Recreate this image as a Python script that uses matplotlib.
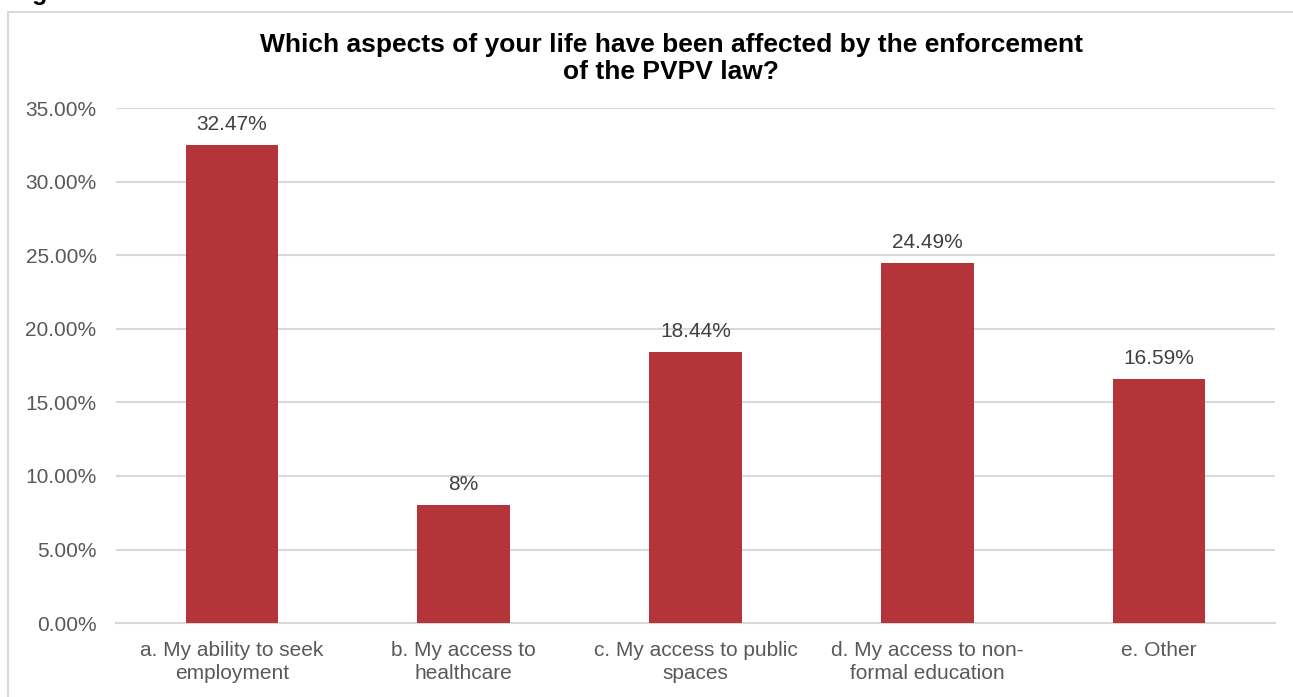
import matplotlib.pyplot as plt
from matplotlib.patches import Rectangle
from matplotlib.ticker import FuncFormatter

plt.rcParams['font.family'] = ['Liberation Sans', 'DejaVu Sans']

categories = ["a. My ability to seek\nemployment",
              "b. My access to\nhealthcare",
              "c. My access to public\nspaces",
              "d. My access to non-\nformal education",
              "e. Other"]
values = [32.47, 8.0, 18.44, 24.49, 16.59]
value_labels = ["32.47%", "8%", "18.44%", "24.49%", "16.59%"]
yticks = [0, 5, 10, 15, 20, 25, 30, 35]
title_lines = ["Which aspects of your life have been affected by the enforcement",
               "of the PVPV law?"]

bar_color = "#B5343A"
grid_color = "#D9D9D9"
text_gray = "#595959"

W, H = 1293, 697
fig = plt.figure(figsize=(W / 100, H / 100), dpi=100)
ax = fig.add_axes([0.0897, 0.106, 0.8963, 0.739])

x = range(len(categories))
ax.bar(x, values, width=0.40, color=bar_color, zorder=3)

for xi, v, lab in zip(x, values, value_labels):
    ax.text(xi, v + 0.75, lab, ha="center", va="bottom", fontsize=15, color="#404040")

ax.set_xlim(-0.5, 4.5)
ax.set_ylim(0, 35)
ax.set_yticks(yticks)
ax.yaxis.set_major_formatter(FuncFormatter(lambda v, p: "%.2f%%" % v))
ax.set_xticks(list(x))
ax.set_xticklabels(categories, fontsize=15, color=text_gray, linespacing=1.25)
ax.tick_params(axis="y", labelsize=15, labelcolor=text_gray, length=0, pad=14)
ax.tick_params(axis="x", length=0, pad=13)

ax.grid(axis="y", color=grid_color, linewidth=1.5, zorder=0)
for s in ["top", "right", "left"]:
    ax.spines[s].set_visible(False)
ax.spines["bottom"].set_color(grid_color)
ax.spines["bottom"].set_linewidth(1.5)

# title, two lines
fig.text(671 / W, 1 - 45 / H, title_lines[0], ha="center", va="center",
         fontsize=19, fontweight="bold", color="black")
fig.text(671 / W, 1 - 72 / H, title_lines[1], ha="center", va="center",
         fontsize=19, fontweight="bold", color="black")

# outer chart frame
fig.patches.append(Rectangle((8 / W, -0.01), 1.1, 1 - 12 / H + 0.01, transform=fig.transFigure,
                             fill=False, edgecolor=grid_color, linewidth=1.5))
# caption above the chart, mostly outside the picture
fig.text(10 / W, 1.0, "Figure", ha="left", va="baseline", fontsize=18, fontweight="bold", color="black")

fig.savefig("out.png", dpi=100)
